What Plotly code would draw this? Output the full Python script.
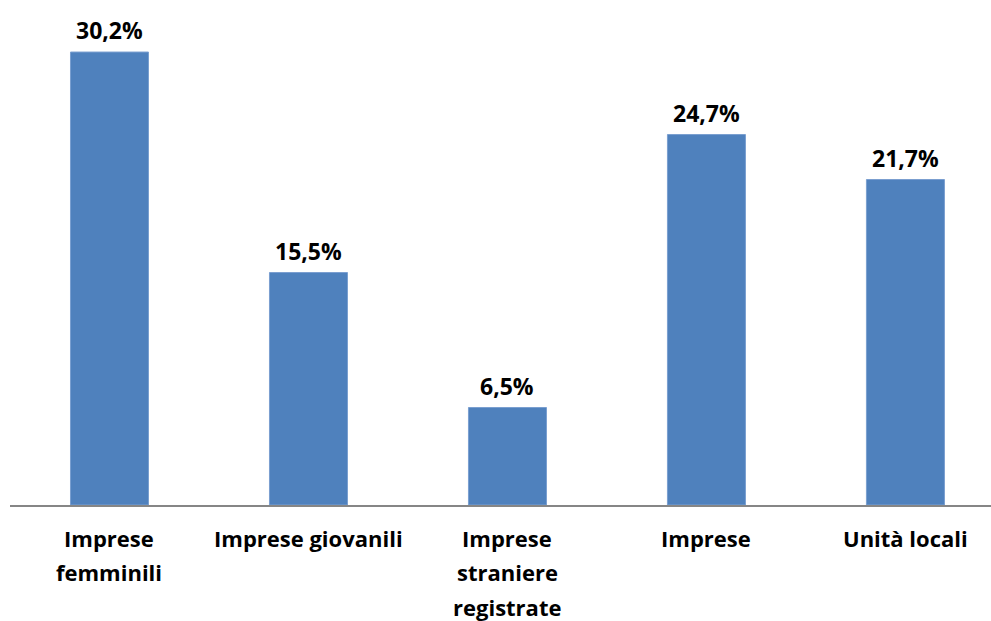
import plotly.graph_objects as go

# Categories (one entry per bar, lines separated by "\n") and percentage values
categories = [
    "Imprese\nfemminili",
    "Imprese giovanili",
    "Imprese\nstraniere\nregistrate",
    "Imprese",
    "Unità locali",
]
values = [30.2, 15.5, 6.5, 24.7, 21.7]

labels = [f"{v:.1f}".replace(".", ",") + "%" for v in values]

FONT = "Open Sans"
BAR_COLOR = "#4F81BD"
LINE_GAP = 34.3  # vertical distance between category label lines, px

fig = go.Figure()
fig.add_trace(
    go.Bar(
        x=list(range(len(categories))),
        y=values,
        width=0.392,
        marker=dict(color=BAR_COLOR, line=dict(color="#7A9FD0", width=1)),
        hoverinfo="skip",
    )
)

# Value labels above each bar
for i, (v, t) in enumerate(zip(values, labels)):
    fig.add_annotation(
        x=i, y=v, text=f"<b>{t}</b>", showarrow=False,
        yanchor="bottom", yshift=4,
        font=dict(family=FONT, size=23, color="black"),
    )

# Category labels below the axis, one annotation per text line
for i, cat in enumerate(categories):
    for j, line in enumerate(cat.split("\n")):
        fig.add_annotation(
            x=i, xref="x", y=0, yref="paper", text=f"<b>{line}</b>",
            showarrow=False, yanchor="middle", yshift=-(33 + LINE_GAP * j),
            font=dict(family=FONT, size=22, color="black"),
        )

fig.update_layout(
    width=991, height=621,
    margin=dict(l=10, r=0, t=0, b=116),
    paper_bgcolor="white", plot_bgcolor="white",
    showlegend=False,
    font=dict(family=FONT, color="black"),
)
fig.update_xaxes(
    range=[-0.5, 4.43],
    showticklabels=False,
    showline=True, linecolor="#868686", linewidth=1.5,
    ticks="", showgrid=False, zeroline=False,
)
fig.update_yaxes(
    range=[0, 33.67],
    visible=False, showgrid=False, zeroline=False,
)

fig.write_html("out.html")
